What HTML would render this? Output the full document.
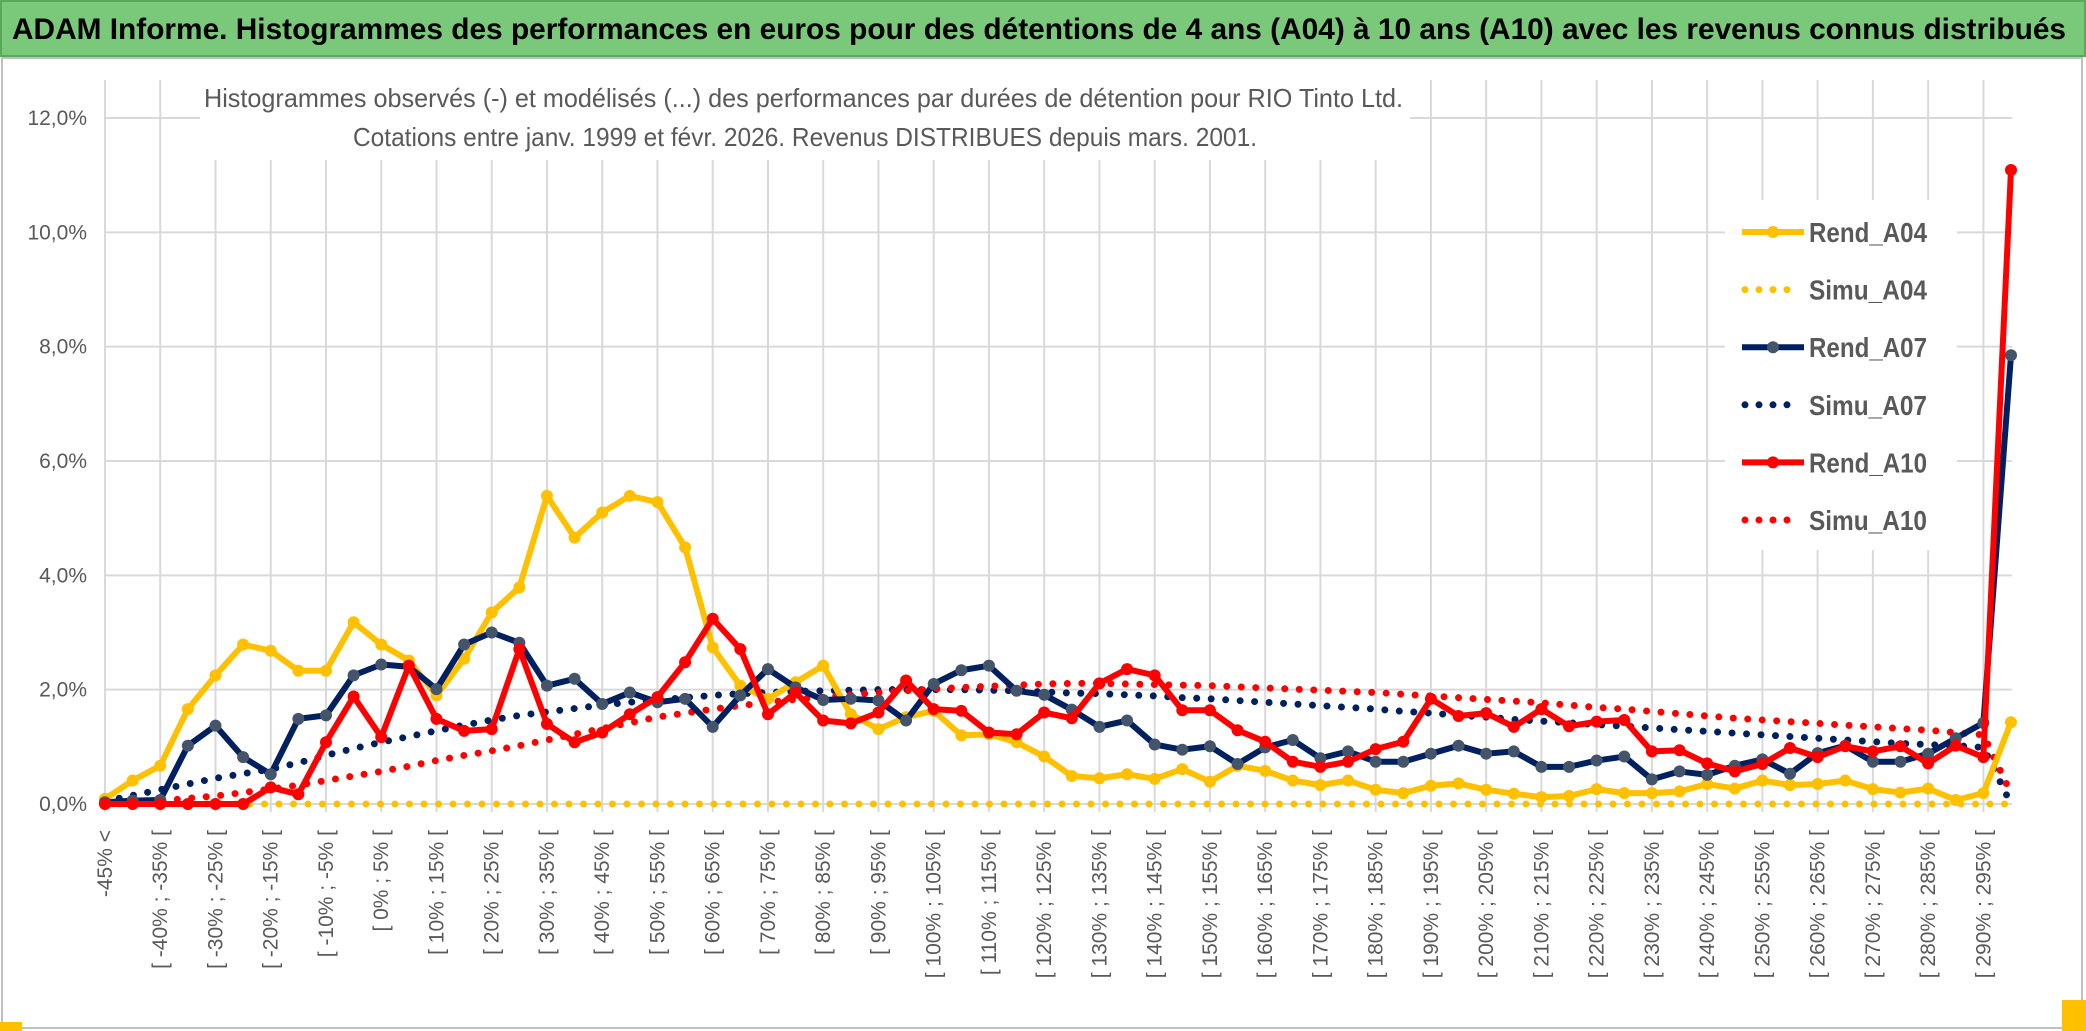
<!DOCTYPE html>
<html><head><meta charset="utf-8"><style>
html,body{margin:0;padding:0;background:#fff;}
svg{display:block;font-family:"Liberation Sans",sans-serif;}
</style></head><body>
<svg id="chart" width="2086" height="1031" viewBox="0 0 2086 1031">
<rect x="0" y="0" width="2086" height="1031" fill="#fff"/>
<rect x="1" y="1" width="2084" height="55" fill="#7ac87a" stroke="#5aa85a" stroke-width="2"/>
<text x="12" y="39" font-size="30" font-weight="bold" fill="#000" textLength="2054" lengthAdjust="spacingAndGlyphs">ADAM Informe. Histogrammes des performances en euros pour des détentions de 4 ans (A04) à 10 ans (A10) avec les revenus connus distribués</text>
<rect x="2" y="58" width="2080" height="970" fill="none" stroke="#bfbfbf" stroke-width="2"/>
<rect x="0" y="1022" width="22" height="9" fill="#ffc000"/>
<rect x="2062" y="1000" width="24" height="31" fill="#ffc000"/>
<g id="grid"></g>
<g id="yaxis"></g>
<g id="xaxis"></g>
<rect x="200" y="74" width="1210" height="86" fill="#fff"/>
<text x="204" y="107" font-size="26" fill="#595959" textLength="1199" lengthAdjust="spacingAndGlyphs">Histogrammes observés (-) et modélisés (...) des performances par durées de détention pour RIO Tinto Ltd.</text>
<text x="353" y="146" font-size="26" fill="#595959" textLength="904" lengthAdjust="spacingAndGlyphs">Cotations entre janv. 1999 et févr. 2026. Revenus DISTRIBUES depuis mars. 2001.</text>
<g id="series"></g>
<g id="legend"></g>
</svg>
<script>
const rendA04 = [0.09,0.41,0.67,1.66,2.25,2.79,2.68,2.33,2.33,3.18,2.79,2.51,1.90,2.54,3.35,3.79,5.39,4.66,5.10,5.39,5.28,4.49,2.74,2.07,1.84,2.13,2.42,1.57,1.31,1.52,1.63,1.20,1.22,1.08,0.83,0.49,0.45,0.52,0.44,0.61,0.39,0.67,0.58,0.41,0.33,0.41,0.25,0.19,0.32,0.36,0.25,0.18,0.12,0.14,0.26,0.19,0.19,0.22,0.35,0.27,0.41,0.33,0.35,0.41,0.26,0.20,0.27,0.07,0.19,1.43];
const simuA04 = [0,0,0,0,0,0,0,0,0,0,0,0,0,0,0,0,0,0,0,0,0,0,0,0,0,0,0,0,0,0,0,0,0,0,0,0,0,0,0,0,0,0,0,0,0,0,0,0,0,0,0,0,0,0,0,0,0,0,0,0,0,0,0,0,0,0,0,0,0,0];
const rendA07 = [0.03,0.06,0.07,1.02,1.37,0.82,0.52,1.49,1.55,2.25,2.44,2.40,2.01,2.79,3.00,2.82,2.07,2.19,1.75,1.95,1.78,1.84,1.35,1.90,2.36,2.04,1.82,1.84,1.81,1.46,2.10,2.34,2.42,1.98,1.91,1.65,1.35,1.46,1.04,0.95,1.01,0.70,0.99,1.12,0.80,0.92,0.74,0.74,0.88,1.02,0.88,0.92,0.65,0.65,0.76,0.83,0.43,0.57,0.51,0.67,0.78,0.53,0.89,1.02,0.74,0.74,0.88,1.15,1.42,7.85];
const simuA07 = [0.05,0.15,0.25,0.35,0.45,0.53,0.61,0.72,0.85,0.97,1.08,1.18,1.28,1.38,1.47,1.55,1.61,1.67,1.73,1.78,1.82,1.86,1.90,1.93,1.95,1.97,1.98,1.99,2.00,2.00,2.00,2.00,1.99,1.98,1.96,1.94,1.93,1.91,1.89,1.86,1.84,1.81,1.78,1.75,1.72,1.69,1.66,1.62,1.59,1.55,1.52,1.48,1.45,1.42,1.39,1.36,1.33,1.30,1.27,1.24,1.21,1.18,1.15,1.12,1.09,1.06,1.04,1.02,0.99,0.00];
const rendA10 = [0,0,0,0,0,0,0.29,0.17,1.08,1.88,1.17,2.42,1.49,1.28,1.31,2.71,1.40,1.08,1.25,1.57,1.87,2.48,3.24,2.71,1.57,1.95,1.46,1.41,1.60,2.16,1.66,1.63,1.25,1.22,1.60,1.50,2.11,2.36,2.25,1.64,1.64,1.29,1.09,0.74,0.65,0.74,0.96,1.09,1.84,1.54,1.59,1.35,1.66,1.36,1.44,1.47,0.92,0.94,0.71,0.57,0.70,0.98,0.82,1.01,0.92,1.01,0.71,1.02,0.82,11.09];
const simuA10 = [0.00,0.02,0.05,0.10,0.14,0.20,0.26,0.33,0.41,0.49,0.57,0.66,0.76,0.85,0.93,1.02,1.12,1.22,1.32,1.42,1.52,1.59,1.66,1.72,1.78,1.83,1.87,1.91,1.95,1.98,2.01,2.04,2.06,2.08,2.10,2.11,2.11,2.10,2.09,2.08,2.07,2.05,2.03,2.01,1.99,1.97,1.95,1.92,1.89,1.86,1.83,1.80,1.77,1.73,1.69,1.66,1.62,1.58,1.54,1.50,1.47,1.44,1.41,1.38,1.35,1.32,1.29,1.25,1.21,0.19];
const yTicks = [0,2,4,6,8,10,12];
const yTickLabels = ["0,0%","2,0%","4,0%","6,0%","8,0%","10,0%","12,0%"];
const categoryLabels = ["-45% <"];
for (let lo = -45; lo < 300; lo += 5) categoryLabels.push("[ " + lo + "% ; " + (lo + 5) + "% [");
categoryLabels.length = 70;

const NS = "http://www.w3.org/2000/svg";
const X0 = 105, X1 = 2011, Y0 = 804, YTOP = 118, YMAX = 12;
const n = rendA04.length;
function xs(i){ return X0 + (X1 - X0) * i / (n - 1); }
function ys(v){ return Y0 - (Y0 - YTOP) * v / YMAX; }
function mk(tag, attrs, parent){ const e = document.createElementNS(NS, tag); for (const k in attrs) e.setAttribute(k, attrs[k]); parent.appendChild(e); return e; }

const grid = document.getElementById('grid');
yTicks.forEach(t => {
  const l = mk('line', {x1:X0, x2:2012, y1:ys(t), y2:ys(t), stroke:'#d9d9d9', 'stroke-width':2}, grid);
  
  
});
for (let i = 0; i < n; i += 2) {
  const l = mk('line', {x1:xs(i), x2:xs(i), y1:80, y2:Y0 + 8, stroke:'#d9d9d9', 'stroke-width':2}, grid);
  
  
}
const yaxis = document.getElementById('yaxis');
yTicks.forEach((t, k) => {
  const tx = mk('text', {x:87, y:ys(t) + 7, 'text-anchor':'end', 'font-size':21, fill:'#595959'}, yaxis);
  tx.textContent = yTickLabels[k];
  
  
});
const xaxis = document.getElementById('xaxis');
for (let i = 0; i < n; i += 2) {
  const tx = mk('text', {x:0, y:0, 'text-anchor':'end', 'font-size':21, fill:'#595959', transform:'translate(' + (xs(i) + 7) + ',830) rotate(-90)'}, xaxis);
  tx.textContent = categoryLabels[i];
  
  
}

const seriesG = document.getElementById('series');
function drawDotted(vals, color, name){
  const p = mk('polyline', {points: vals.map((v, i) => xs(i) + ',' + ys(v)).join(' '), fill:'none', stroke:color, 'stroke-width':7, 'stroke-linecap':'round', 'stroke-dasharray':'0 14.5'}, seriesG);
  
  
}
function drawSolid(vals, color, mcolor, name){
  const g = mk('g', {}, seriesG);
  
  
  mk('polyline', {points: vals.map((v, i) => xs(i) + ',' + ys(v)).join(' '), fill:'none', stroke:color, 'stroke-width':6, 'stroke-linejoin':'round'}, g);
  vals.forEach((v, i) => {
    const c = mk('circle', {cx:xs(i), cy:ys(v), r:6, fill:mcolor}, g);
    
    
  });
}
drawDotted(simuA04, '#ffc000', 'simu-a04-line');
drawDotted(simuA07, '#002060', 'simu-a07-line');
drawDotted(simuA10, '#ff0000', 'simu-a10-line');
drawSolid(rendA04, '#ffc000', '#ffc000', 'rend-a04-line');
drawSolid(rendA07, '#002060', '#44546a', 'rend-a07-line');
drawSolid(rendA10, '#ff0000', '#ff0000', 'rend-a10-line');

const legend = document.getElementById('legend');
mk('rect', {x:1725, y:200, width:232, height:350, fill:'#fff'}, legend);
const legItems = [
  ['Rend_A04', '#ffc000', '#ffc000', false],
  ['Simu_A04', '#ffc000', '#ffc000', true],
  ['Rend_A07', '#002060', '#44546a', false],
  ['Simu_A07', '#002060', '#002060', true],
  ['Rend_A10', '#ff0000', '#ff0000', false],
  ['Simu_A10', '#ff0000', '#ff0000', true]
];
legItems.forEach((it, k) => {
  const cy = 232 + k * 57.6;
  const g = mk('g', {}, legend);
  
  
  if (it[3]) {
    mk('line', {x1:1745, x2:1800, y1:cy, y2:cy, stroke:it[1], 'stroke-width':7, 'stroke-linecap':'round', 'stroke-dasharray':'0 14'}, g);
  } else {
    mk('line', {x1:1742, x2:1804, y1:cy, y2:cy, stroke:it[1], 'stroke-width':6}, g);
    mk('circle', {cx:1773, cy:cy, r:6, fill:it[2]}, g);
  }
  const t = mk('text', {x:1809, y:cy + 10, 'font-size':28, 'font-weight':'bold', fill:'#595959', textLength:118, lengthAdjust:'spacingAndGlyphs'}, g);
  t.textContent = it[0];
});
</script>
</body></html>
